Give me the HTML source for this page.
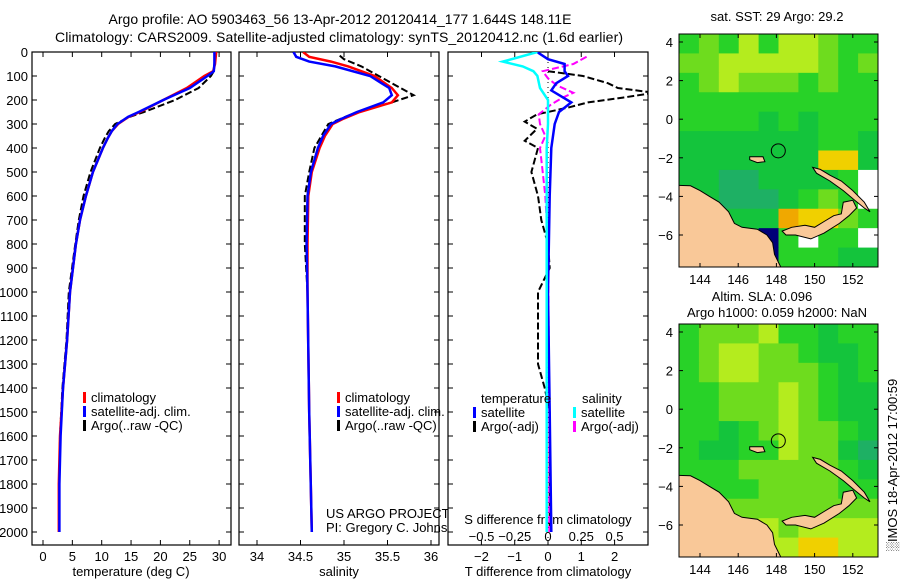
<!DOCTYPE html>
<html><head><meta charset="utf-8"><style>
body{margin:0;background:#fff;}
svg{display:block;font-family:"Liberation Sans",sans-serif;}
</style></head><body>
<svg id="fig" width="900" height="580" viewBox="0 0 900 580">
<defs>
<clipPath id="c1"><rect x="32" y="52" width="199" height="493"/></clipPath>
<clipPath id="c2"><rect x="239" y="52" width="200" height="493"/></clipPath>
<clipPath id="c3"><rect x="448" y="52" width="200" height="493"/></clipPath>
<clipPath id="m1"><rect x="679" y="34" width="199" height="233"/></clipPath>
<clipPath id="m2"><rect x="679" y="324" width="199" height="233"/></clipPath>
</defs>
<text x="340" y="24" font-size="14" text-anchor="middle">Argo profile: AO 5903463_56 13-Apr-2012 20120414_177 1.644S 148.11E</text>
<text x="339" y="42" font-size="14" text-anchor="middle" textLength="568">Climatology: CARS2009. Satellite-adjusted climatology: synTS_20120412.nc (1.6d earlier)</text>
<g id="g1"></g>
<g id="g2"></g>
<g id="g3"></g>
<g id="gm"></g>
</svg>
<script>
// ---- profile data ----
const tDepth=[0,50,80,100,150,200,250,270,300,330,360,400,500,600,700,800,1000,1200,1400,1600,1800,2000];
const tClim=[29.5,29.3,29.0,27.5,24.5,20.5,16.5,14.6,12.8,11.7,11.0,10.2,8.5,7.3,6.3,5.6,4.6,4.1,3.4,2.9,2.7,2.7];
const tSat=[29.2,29.2,29.1,28.0,25.0,20.5,16.3,14.5,12.7,11.7,11.0,10.2,8.5,7.3,6.3,5.6,4.6,4.1,3.4,3.0,2.8,2.8];
const tArgo=[29.3,29.2,29.1,28.6,26.5,22.5,17.2,14.8,12.3,11.2,10.5,9.7,8.1,6.9,6.1,5.5,4.4,4.0,3.3,2.9,2.8,2.8];
const sDepth=[0,20,40,60,100,150,180,210,250,280,300,350,400,500,600,800,1000,1500,2000];
const sClim=[34.53,34.6,34.85,35.05,35.35,35.55,35.62,35.55,35.18,34.98,34.87,34.78,34.72,34.63,34.59,34.58,34.58,34.6,34.63];
const sSat=[34.42,34.45,34.6,34.9,35.3,35.52,35.55,35.45,35.15,34.96,34.85,34.76,34.7,34.62,34.58,34.57,34.58,34.6,34.63];
const sArgoDepth=[15,30,60,100,150,180,210,250,300,400,500,600,800,1000];
const sArgo=[34.95,35.0,35.2,35.4,35.65,35.8,35.55,35.15,34.82,34.66,34.6,34.55,34.55,34.58];
const dtDepth=[0,30,50,80,100,130,160,210,250,300,400,600,1000,1500,2000];
const dtSat=[-0.33,0,0.5,0.5,0.6,0.25,0.1,0.7,0.33,0.2,0.1,0.05,0,0.05,0.1];
const dtArgoDepth=[80,100,130,150,170,190,210,230,260,290,320,370,400,500,600,700,800,900,1000,1300,1400,1500,2000];
const dtArgo=[0,1.05,1.8,2.1,3.2,2.25,1.2,0.65,-0.33,-0.7,-0.33,-0.7,-0.3,-0.5,-0.3,-0.2,0,0.05,-0.3,-0.3,-0.1,0.05,0.05];
const dsDepth=[0,40,60,80,100,150,200,300,400,1000,2000];
const dsSat=[-0.08,-0.34,-0.19,-0.11,-0.08,-0.06,0,0,-0.01,-0.01,-0.01];
const dsArgoDepth=[20,50,80,110,140,170,190,220,260,300,350,400,500,600,800,1500,2000];
const dsArgo=[0.29,0.19,-0.04,0,0.07,0.19,0.11,0.02,-0.07,-0.06,-0.02,-0.06,-0.04,-0.02,0,0.01,0.01];
const depthTicks=[0,100,200,300,400,500,600,700,800,900,1000,1100,1200,1300,1400,1500,1600,1700,1800,1900,2000];
const tTicks=[0,5,10,15,20,25,30];
const sTicks=[34,34.5,35,35.5,36];
const dtTicks=[-2,-1,0,1,2];
const dsTicks=[-0.5,-0.25,0,0.25,0.5];
const dsTickLabels=["\u22120.5","\u22120.25","0","0.25","0.5"];
const dtTickLabels=["\u22122","\u22121","0","1","2"];
// ---- map data (1-degree cells, rows from north) ----
const sstRows=["cbcacaabcc","bbaaaaabcb","cbabbbcbcc","cccccccccc","ccccdcdccc","dddddddccd","dddddddyyd","ddeeddddcw","ddeeedcbcw","dddddoyybc","ddddncwccw","dcdcncccdd"];
const slaRows=["cbbbaccdcc","cbaabbcddc","cbaabbbcdc","ccbbbabcdd","ccbbbabcdd","ccdcbabbcd","cddccabbde","cccbbbbbcd","ccccbbbbcc","ccbbbbbbbb","bbbbabaaaa","aaaaaayyaa"];
const mapLatTicks=[4,2,0,-2,-4,-6];
const mapLonTicks=[144,146,148,150,152];

const NS="http://www.w3.org/2000/svg";
function mk(tag,attrs,parent){const e=document.createElementNS(NS,tag);for(const k in attrs)e.setAttribute(k,attrs[k]);parent.appendChild(e);return e;}
const PT=52,PB=545;
function yD(d){return PT+d*0.24;}
function xT(t){return 43+t*5.87;}
function xS(s){return 257+(s-34)*87;}
function xDT(t){return 548+t*33.3;}
function xDS(s){return 548+s*133;}
function line(par,depths,vals,fx,color,dash,name,clip){
  const pts=depths.map((d,i)=>fx(vals[i]).toFixed(1)+","+yD(d).toFixed(1)).join(" ");
  const p=mk("polyline",{points:pts,fill:"none",stroke:color,"stroke-width":dash?2:2.5,"clip-path":"url(#"+clip+")"},par);
  if(dash)p.setAttribute("stroke-dasharray","7,3");
  
  
}
function frame(par,x0,x1,name){
  const r=mk("rect",{x:x0,y:PT,width:x1-x0,height:PB-PT,fill:"#fff",stroke:"#000","stroke-width":1.2},par);
  
  
  depthTicks.forEach(d=>{
    mk("line",{x1:x0,x2:x0+5,y1:yD(d),y2:yD(d),stroke:"#000"},par);
    mk("line",{x1:x1,x2:x1-5,y1:yD(d),y2:yD(d),stroke:"#000"},par);
  });
}
function xticks(par,ticks,labels,fx,ylab,top){
  ticks.forEach((t,i)=>{
    const x=fx(t);
    mk("line",{x1:x,x2:x,y1:PB,y2:PB-5,stroke:"#000"},par);
    if(top)mk("line",{x1:x,x2:x,y1:PT,y2:PT+5,stroke:"#000"},par);
    const tx=mk("text",{x:x,y:ylab,"font-size":13,"text-anchor":"middle"},par);
    tx.textContent=labels[i];
    
    
  });
}
function legend(par,x,y,color,label){
  mk("rect",{x:x,y:y-10,width:3,height:11,fill:color},par);
  const t=mk("text",{x:x+8,y:y,"font-size":13},par);
  t.textContent=label;
  
  
}
function txt(par,x,y,s,anchor,name,size){
  const t=mk("text",{x:x,y:y,"font-size":size||13,"text-anchor":anchor||"start"},par);
  t.textContent=s;
  
  
  return t;
}
// Panel 1
const g1=document.getElementById("g1");
frame(g1,32,231,"temperature-axes");
depthTicks.forEach(d=>{const t=txt(g1,28,yD(d)+5,String(d),"end","depth-tick-label");});
xticks(g1,tTicks,tTicks.map(String),xT,561,true);
txt(g1,131,576,"temperature (deg C)","middle","x-axis-title-temperature");
line(g1,tDepth,tArgo,xT,"#000",true,"argo-temperature-line","c1");
line(g1,tDepth,tClim,xT,"#f00",false,"climatology-temperature-line","c1");
line(g1,tDepth,tSat,xT,"#00f",false,"satellite-temperature-line","c1");
legend(g1,83,402,"#f00","climatology");
legend(g1,83,416,"#00f","satellite-adj. clim.");
legend(g1,83,430,"#000","Argo(..raw -QC)");
// Panel 2
const g2=document.getElementById("g2");
frame(g2,239,439,"salinity-axes");
xticks(g2,sTicks,sTicks.map(String),xS,561,true);
txt(g2,339,576,"salinity","middle","x-axis-title-salinity");
line(g2,sArgoDepth,sArgo,xS,"#000",true,"argo-salinity-line","c2");
line(g2,sDepth,sClim,xS,"#f00",false,"climatology-salinity-line","c2");
line(g2,sDepth,sSat,xS,"#00f",false,"satellite-salinity-line","c2");
legend(g2,337,402,"#f00","climatology");
legend(g2,337,416,"#00f","satellite-adj. clim.");
legend(g2,337,430,"#000","Argo(..raw -QC)");
txt(g2,326,518,"US ARGO PROJECT","start","project-credit");
txt(g2,326,532,"PI: Gregory C. Johnson","start","pi-credit");
// Panel 3
const g3=document.getElementById("g3");
frame(g3,448,648,"difference-axes");
mk("line",{x1:548,x2:548,y1:PT,y2:PB,stroke:"#000","stroke-dasharray":"1,4"},g3);
xticks(g3,dtTicks,dtTickLabels,xDT,561,false);
dsTicks.forEach((t,i)=>{const x=xDS(t);mk("line",{x1:x,x2:x,y1:PT,y2:PT+5,stroke:"#000"},g3);
  txt(g3,x,541,dsTickLabels[i],"middle","s-tick-label");});
txt(g3,548,524,"S difference from climatology","middle","s-axis-title");
txt(g3,548,576,"T difference from climatology","middle","t-axis-title");
line(g3,dtArgoDepth,dtArgo,xDT,"#000",true,"argo-t-diff-line","c3");
line(g3,dsArgoDepth,dsArgo,xDS,"#f0f",true,"argo-s-diff-line","c3");
line(g3,dtDepth,dtSat,xDT,"#00f",false,"satellite-t-diff-line","c3");
line(g3,dsDepth,dsSat,xDS,"#0ff",false,"satellite-s-diff-line","c3");
txt(g3,481,403,"temperature","start","legend-temperature-heading");
txt(g3,582,403,"salinity","start","legend-salinity-heading");
legend(g3,473,417,"#00f","satellite");
legend(g3,473,431,"#000","Argo(-adj)");
legend(g3,573,417,"#0ff","satellite");
legend(g3,573,431,"#f0f","Argo(-adj)");
// Maps
const pal={a:"#b4ec1e",b:"#6edc1e",c:"#28d228",d:"#14c43c",e:"#1eb064",y:"#f0d000",o:"#f0a800",n:"#000078",w:"#ffffff",l:"#3cc8ff"};
const gm=document.getElementById("gm");
const land=[[[142,-3.4],[143.5,-3.45],[144,-3.7],[144.5,-4.0],[145,-4.3],[145.5,-4.8],[145.8,-5.4],[146.2,-5.6],[147,-5.7],[147.5,-6.0],[147.8,-6.4],[147.9,-7.0],[148.3,-7.8],[142,-7.8]],
[[148.3,-5.8],[148.8,-5.6],[149.5,-5.5],[150,-5.6],[150.5,-5.3],[151,-5.0],[151.4,-4.9],[151.5,-4.3],[152,-4.2],[152.2,-4.6],[151.8,-5.0],[151.3,-5.4],[150.5,-5.9],[149.8,-6.2],[149,-6.0],[148.5,-6.0]],
[[149.9,-2.5],[150.3,-2.6],[150.8,-2.9],[151.4,-3.2],[152,-3.7],[152.6,-4.3],[152.9,-4.8],[152.6,-4.6],[152.1,-4.2],[151.5,-3.7],[150.8,-3.2],[150.1,-2.8]],
[[146.6,-1.95],[147.3,-1.95],[147.4,-2.2],[147,-2.25],[146.6,-2.1]]];
function drawMap(rows,oy,clip,name){
  const g=mk("g",{},gm);
  
  
  const top=oy+34, H=233, L=679, W=199;
  const fx=lon=>700+(lon-144)*19.1, fy=lat=>oy+42+(4-lat)*19.3;
  const cg=mk("g",{"clip-path":"url(#"+clip+")"},g);
  rows.forEach((r,ri)=>{for(let ci=0;ci<r.length;ci++){
    const c=mk("rect",{x:L+ci*W/10,y:top+ri*H/12,width:W/10+0.5,height:H/12+0.5,fill:pal[r[ci]]},cg);
    
    
  }});
  land.forEach(poly=>{const p=mk("polygon",{points:poly.map(q=>fx(q[0]).toFixed(1)+","+fy(q[1]).toFixed(1)).join(" "),fill:"#f9c898",stroke:"#000","stroke-width":1},cg);
    
    });
  const ci=mk("circle",{cx:fx(148.1),cy:fy(-1.64),r:7,fill:"none",stroke:"#000"},g);
  
  
  mk("rect",{x:L,y:top,width:W,height:H,fill:"none",stroke:"#000"},g);
  mapLatTicks.forEach(v=>{const y=fy(v);mk("line",{x1:L,x2:L+4,y1:y,y2:y,stroke:"#000"},g);mk("line",{x1:L+W,x2:L+W-4,y1:y,y2:y,stroke:"#000"},g);
    txt(g,673,y+5,v<0?"\u2212"+(-v):String(v),"end","map-lat-label");});
  mapLonTicks.forEach(v=>{const x=fx(v);mk("line",{x1:x,x2:x,y1:top,y2:top+4,stroke:"#000"},g);mk("line",{x1:x,x2:x,y1:top+H,y2:top+H-4,stroke:"#000"},g);
    txt(g,x,top+H+17,String(v),"middle","map-lon-label");});
}
drawMap(sstRows,0,"m1","sst-map");
drawMap(slaRows,290,"m2","sla-map");
txt(gm,777,21,"sat. SST: 29 Argo: 29.2","middle","sst-map-title");
txt(gm,762,301,"Altim. SLA: 0.096","middle","sla-map-title");
txt(gm,777,317,"Argo h1000: 0.059 h2000: NaN","middle","sla-map-subtitle");
const im=txt(gm,0,0,"\u2591IMOS 18-Apr-2012 17:00:59","middle","imos-timestamp");
im.setAttribute("transform","translate(897,465) rotate(-90)");
</script>
</body></html>
